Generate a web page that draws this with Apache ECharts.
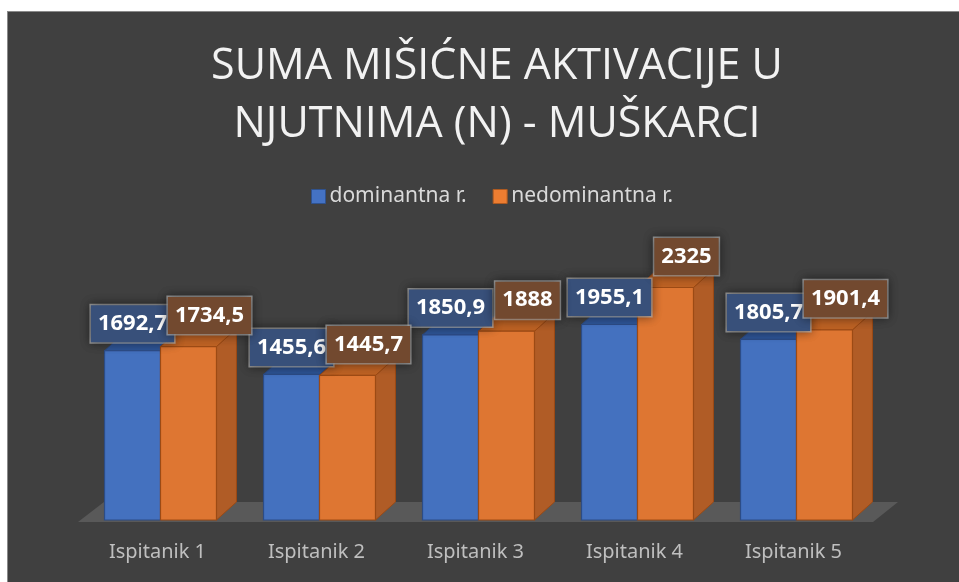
<!DOCTYPE html>
<html>
<head>
<meta charset="utf-8">
<script src="https://cdn.jsdelivr.net/npm/echarts@6/dist/echarts.min.js"></script>
<style>
  html, body { margin: 0; padding: 0; background: #ffffff; width: 959px; height: 582px; overflow: hidden; }
  #frame { position: absolute; left: 7px; top: 11px; width: 952px; height: 571px; border-top: 1px solid #8a8a8a; border-left: 1px solid #8a8a8a; }
  #main { width: 951px; height: 570px; }
</style>
</head>
<body>
<div id="frame"><div id="main"></div></div>
<script>
// podaci
var categories = ['Ispitanik 1', 'Ispitanik 2', 'Ispitanik 3', 'Ispitanik 4', 'Ispitanik 5']
var dominantna = [1692.7, 1455.6, 1850.9, 1955.1, 1805.7]
var nedominantna = [1734.5, 1445.7, 1888, 2325, 1901.4]
var seriesNames = ['dominantna r.', 'nedominantna r.']

var chart = echarts.init(document.getElementById('main'), null, { renderer: 'canvas' })

// dubina 3D stupaca
var DX = 20, DY = -18

function fmt(v) {
    return String(v).replace('.', ',')
}

function makeBar(colors, side, labelCfg) {
    return function (params, api) {
        var top = api.coord([api.value(0), api.value(1)])
        var base = api.coord([api.value(0), 0])
        var band = api.size([1, 0])[0]
        var w = band * 0.352
        var x0 = top[0] + 3 + (side === 0 ? -w : 0)
        var t = top[1], b = base[1]
        return {
            type: 'group',
            children: [
                {
                    type: 'polygon',
                    shape: { points: [[x0 + w, t], [x0 + w + DX, t + DY], [x0 + w + DX, b + DY], [x0 + w, b]] },
                    style: { fill: colors.side, stroke: colors.edge, lineWidth: 1 }
                },
                {
                    type: 'polygon',
                    shape: { points: [[x0, t], [x0 + w, t], [x0 + w + DX, t + DY], [x0 + DX, t + DY]] },
                    style: { fill: colors.top, stroke: colors.edge, lineWidth: 1 }
                },
                {
                    type: 'rect',
                    shape: { x: x0, y: t, width: w, height: b - t },
                    style: { fill: colors.front, stroke: colors.edge, lineWidth: 1.2 }
                },
                {
                    type: 'text',
                    z2: 100 + side,
                    x: x0 + w / 2 + labelCfg.dx,
                    y: t + labelCfg.dy,
                    style: {
                        text: fmt(api.value(1)),
                        fill: '#ffffff',
                        font: 'bold 22px "Noto Sans", sans-serif',
                        lineHeight: 26,
                        align: 'center',
                        verticalAlign: 'middle',
                        backgroundColor: labelCfg.bg,
                        borderColor: 'rgba(190,190,190,0.7)',
                        borderWidth: 1.5,
                        padding: [6, 7, 5, 7],
                        shadowBlur: 10,
                        shadowColor: 'rgba(0,0,0,0.45)'
                    }
                }
            ]
        }
    }
}

var option = {
    backgroundColor: '#404040',
    animation: false,
    title: {
        text: 'SUMA MIŠIĆNE AKTIVACIJE U\nNJUTNIMA (N) - MUŠKARCI',
        left: 484,
        top: 21,
        textAlign: 'center',
        textStyle: {
            color: '#f2f2f2',
            fontSize: 43,
            fontWeight: 'normal',
            lineHeight: 58,
            fontFamily: '"Open Sans", sans-serif'
        }
    },
    legend: {
        left: 298,
        top: 169,
        itemWidth: 14,
        itemHeight: 14,
        itemGap: 26,
        textStyle: { color: '#d9d9d9', fontSize: 21, fontFamily: '"Noto Sans", sans-serif', padding: [0, 0, 0, -1] },
        data: [
            { name: seriesNames[0], icon: 'rect', itemStyle: { color: '#4472c4', borderColor: '#2f528f', borderWidth: 1 } },
            { name: seriesNames[1], icon: 'rect', itemStyle: { color: '#ed7d31', borderColor: '#ae5a21', borderWidth: 1 } }
        ]
    },
    grid: { left: 70, top: 258, width: 795, height: 250 },
    xAxis: {
        type: 'category',
        data: categories,
        axisLine: { show: false },
        axisTick: { show: false },
        axisLabel: { color: '#bfbfbf', fontSize: 20, margin: 22, fontFamily: '"Noto Sans", sans-serif' }
    },
    yAxis: {
        type: 'value',
        min: 0,
        max: 2500,
        show: false,
        splitLine: { show: false }
    },
    series: [
        {
            // pod
            type: 'custom',
            z: 1,
            silent: true,
            data: [[0, 0]],
            encode: { x: 0, y: 1 },
            renderItem: function (params, api) {
                var cs = params.coordSys
                var b = cs.y + cs.height
                return {
                    type: 'polygon',
                    shape: { points: [[cs.x, b + 2], [cs.x + cs.width, b + 2], [cs.x + cs.width + 25, b - 18], [cs.x + 26, b - 18]] },
                    style: { fill: '#595959' }
                }
            }
        },
        {
            name: seriesNames[0],
            type: 'custom',
            z: 2,
            data: dominantna.map(function (v, i) { return [i, v] }),
            encode: { x: 0, y: 1 },
            itemStyle: { color: '#4472c4' },
            renderItem: makeBar({ front: '#4471bf', top: '#2f5597', side: '#345a9c', edge: '#2c4c86' }, 0, { dx: 0, dy: -27, bg: '#38507a' })
        },
        {
            name: seriesNames[1],
            type: 'custom',
            z: 2,
            data: nedominantna.map(function (v, i) { return [i, v] }),
            encode: { x: 0, y: 1 },
            itemStyle: { color: '#ed7d31' },
            renderItem: makeBar({ front: '#de7632', top: '#bd6224', side: '#b05c26', edge: '#9c4a14' }, 1, { dx: 21, dy: -31, bg: '#72492f' })
        }
    ]
}

chart.setOption(option)
</script>
</body>
</html>
